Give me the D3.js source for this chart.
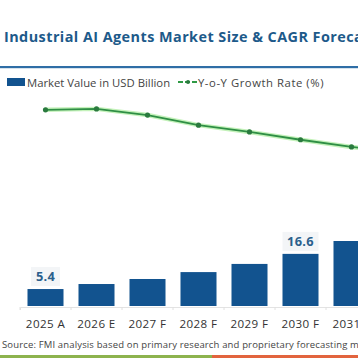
<!DOCTYPE html>
<html><head><meta charset="utf-8">
<script src="https://cdn.jsdelivr.net/npm/d3@7"></script>
<style>html,body{margin:0;padding:0;background:#fff;overflow:hidden}svg{display:block}</style>
</head><body>
<svg id="c" width="358" height="358"></svg>
<script>
const categories = ["2025 A","2026 E","2027 F","2028 F","2029 F","2030 F","2031 F","2032 F"];
const marketValues = [5.4, 7.0, 8.6, 10.8, 13.4, 16.6, 20.7, 25.0];
const growthRates = [30.2, 30.5, 28.6, 25.5, 23.4, 21.0, 18.8, 16.9];
const labelledValues = {"2025 A": "5.4", "2030 F": "16.6"};
const titleText = "Industrial AI Agents Market Size & CAGR Forecast";
const legendLabels = ["Market Value in USD Billion", "Y-o-Y Growth Rate (%)"];
const sourceText = "Source: FMI analysis based on primary research and proprietary forecasting model";

const svg = d3.select("#c");
const font = "'Open Sans', sans-serif";
const barColor = "#12538f";
const titleColor = "#1d5a8a";

svg.append("rect").attr("width",358).attr("height",358).attr("fill","#fff");

// title
svg.append("text").attr("x",4).attr("y",42).text(titleText)
  .attr("font-family",font).attr("font-weight",700).attr("font-size",14.4)
  .attr("letter-spacing",0.45).attr("fill",titleColor);

// separator line
svg.append("rect").attr("x",0).attr("y",66).attr("width",358).attr("height",2.2).attr("fill","#2f6ea6");

// scales
const x = d3.scaleBand().domain(categories).range([20, 428]).paddingInner(0.294).paddingOuter(0.147);
const yBar = d3.scaleLinear().domain([0,25]).range([306, 227.5]);
const yLine = d3.scaleLinear().domain([0,40]).range([208, 78]);

// axis baseline
const axis = d3.axisBottom(x).tickSize(3).tickFormat("");
const ag = svg.append("g").attr("transform","translate(0,307)").call(axis);
ag.select(".domain").attr("stroke","#e3e3e3");
ag.selectAll(".tick").remove();
const bounds = categories.slice(1).map(c => x(c) - x.step()*x.paddingInner()/2);
svg.selectAll(".tk").data([x.range()[0]].concat(bounds)).enter().append("line")
  .attr("x1",d=>d).attr("x2",d=>d).attr("y1",307).attr("y2",310).attr("stroke","#e0e0e0");

// bars
svg.selectAll(".bar").data(categories).enter().append("rect")
  .attr("x",d=>x(d)).attr("width",x.bandwidth())
  .attr("y",(d,i)=>yBar(marketValues[i])).attr("height",(d,i)=>yBar(0)-yBar(marketValues[i]))
  .attr("fill",barColor);

// value labels
Object.keys(labelledValues).forEach(c=>{
  const i = categories.indexOf(c);
  const cx = x(c)+x.bandwidth()/2;
  const ty = yBar(marketValues[i]) - 8;
  const w = labelledValues[c].length*7+8;
  svg.append("rect").attr("x",cx-w/2).attr("y",ty-14).attr("width",w).attr("height",19)
    .attr("fill","#f3f5f7");
  svg.append("text").attr("x",cx).attr("y",ty).attr("text-anchor","middle")
    .text(labelledValues[c]).attr("font-family",font).attr("font-weight",700)
    .attr("font-size",12.8).attr("letter-spacing",0.3).attr("fill","#2b5f8c");
});

// x labels
svg.selectAll(".xl").data(categories).enter().append("text")
  .attr("x",d=>x(d)+x.bandwidth()/2).attr("y",328).attr("text-anchor","middle")
  .text(d=>d).attr("font-family",font).attr("font-size",11.6).attr("letter-spacing",0.4).attr("fill","#333");

// line with glow
const line = d3.line().x((d,i)=>x(categories[i])+x.bandwidth()/2).y(d=>yLine(d));
svg.append("path").datum(growthRates).attr("d",line).attr("fill","none")
  .attr("stroke","#c4f2ba").attr("stroke-width",4.5).attr("stroke-linejoin","round");
svg.append("path").datum(growthRates).attr("d",line).attr("fill","none")
  .attr("stroke","#2f8f45").attr("stroke-width",1.8).attr("stroke-linejoin","round");
svg.selectAll(".pt").data(growthRates).enter().append("circle")
  .attr("cx",(d,i)=>x(categories[i])+x.bandwidth()/2).attr("cy",d=>yLine(d))
  .attr("r",2.6).attr("fill","#2a7a3e");

// legend
const lg = svg.append("g");
lg.append("rect").attr("x",7).attr("y",78).attr("width",18).attr("height",8).attr("fill",barColor);
lg.append("text").attr("x",27).attr("y",86.5).text(legendLabels[0])
  .attr("font-family",font).attr("font-size",11.3).attr("letter-spacing",0).attr("fill","#444");
lg.append("line").attr("x1",178).attr("x2",197).attr("y1",82).attr("y2",82)
  .attr("stroke","#2f9a45").attr("stroke-width",2).attr("stroke-dasharray","5,2");
lg.append("circle").attr("cx",188).attr("cy",82).attr("r",2).attr("fill","#2a7a3e");
lg.append("text").attr("x",198).attr("y",86.5).text(legendLabels[1])
  .attr("font-family",font).attr("font-size",11.3).attr("letter-spacing",0.55).attr("fill","#444");

// source
svg.append("text").attr("x",2).attr("y",348).text(sourceText)
  .attr("font-family",font).attr("font-size",9.5).attr("letter-spacing",0.15).attr("fill","#444");

// bottom strip
svg.append("rect").attr("x",0).attr("y",355).attr("width",212).attr("height",3).attr("fill","#8db34e");
svg.append("rect").attr("x",212).attr("y",355).attr("width",146).attr("height",3).attr("fill","#e2643e");
</script>
</body></html>
